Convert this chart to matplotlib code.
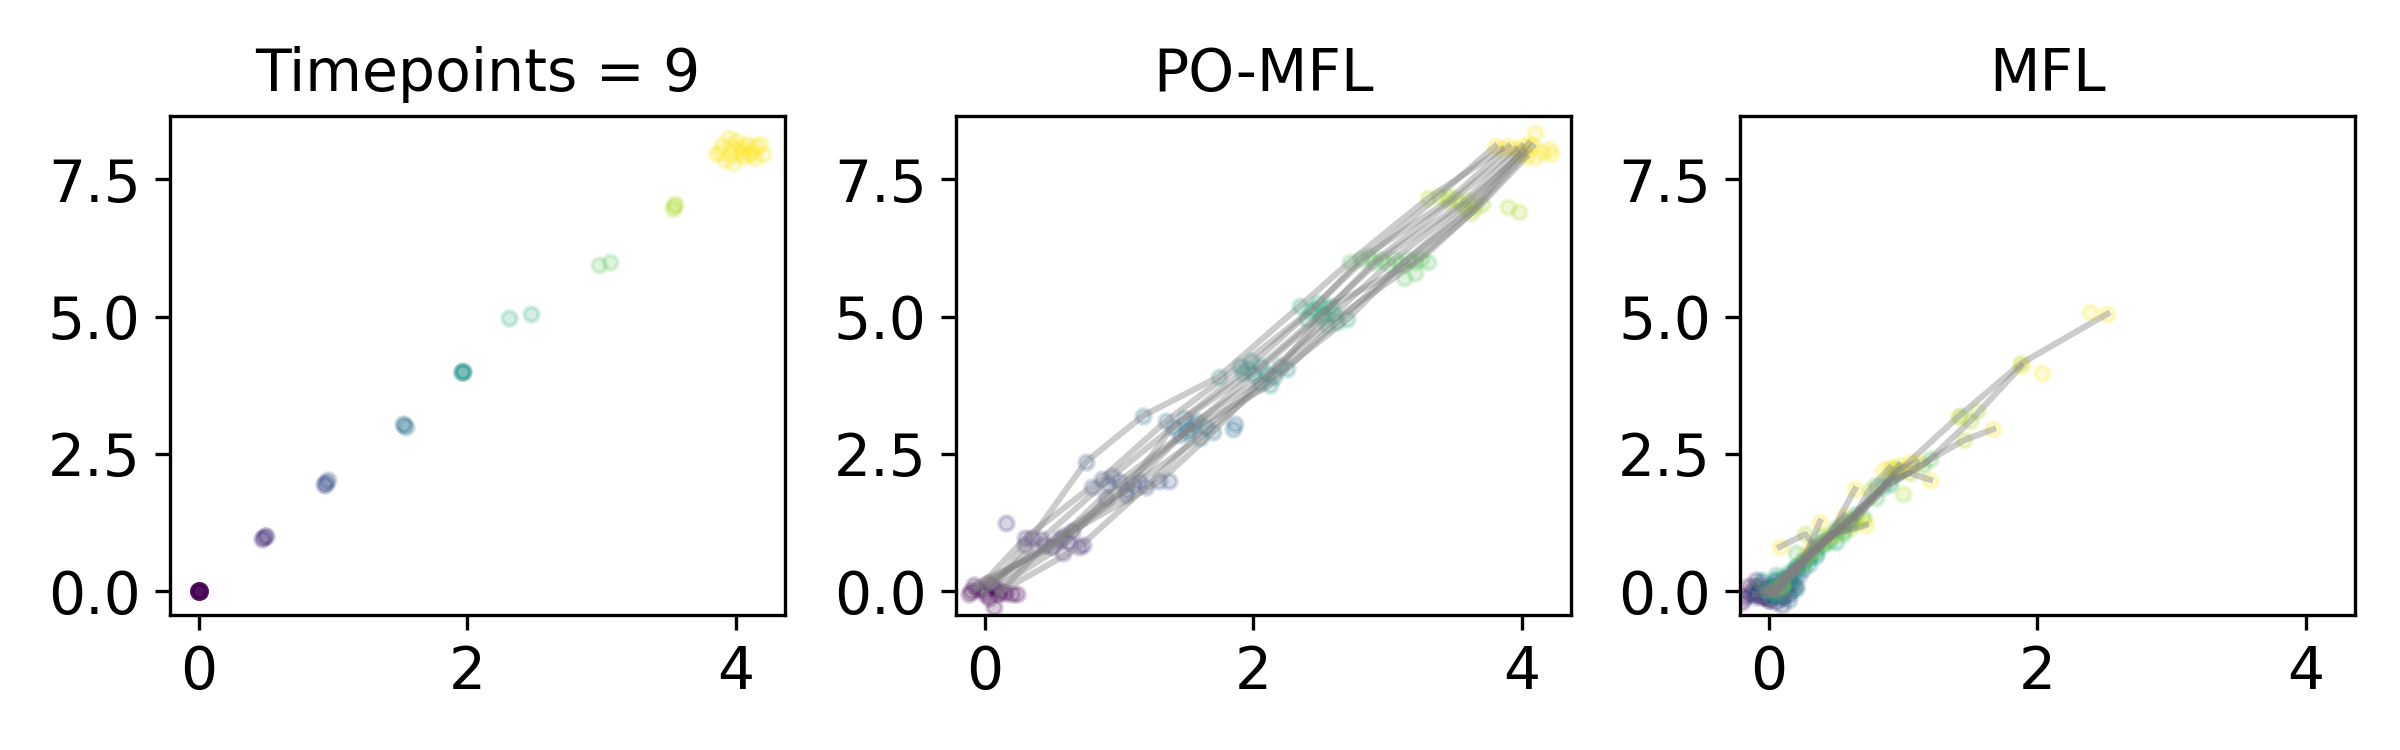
import matplotlib
matplotlib.use('Agg')
import matplotlib.pyplot as plt
import numpy as np

# ground truth, one list per timepoint (t = 0..8)
gt_x = [
    [0.0, 0.0, 0.0, 0.0, 0.0, 0.0, 0.0, 0.0, 0.0, 0.0, 0.0, 0.0],
    [0.48, 0.49, 0.47, 0.50],
    [0.94, 0.95, 0.96, 0.935],
    [1.52, 1.54, 1.53],
    [1.96, 1.97, 1.965, 1.96],
    [2.31, 2.47],
    [2.98, 3.06],
    [3.53, 3.54, 3.55],
    [3.88, 3.95, 3.97, 4.02, 4.10, 4.15, 4.18, 4.05, 3.92, 3.98,
     4.08, 4.12, 4.20, 3.85, 4.00, 4.04, 3.96, 4.14, 3.90, 4.06],
]
gt_y = [
    [0.0, 0.0, 0.0, 0.0, 0.0, 0.0, 0.0, 0.0, 0.0, 0.0, 0.0, 0.0],
    [0.97, 1.00, 0.96, 1.01],
    [1.93, 1.99, 2.03, 1.96],
    [3.05, 3.00, 3.03],
    [4.00, 4.01, 3.99, 4.00],
    [4.98, 5.04],
    [5.93, 5.99],
    [6.95, 7.01, 7.05],
    [8.00, 8.25, 8.10, 8.05, 7.95, 8.10, 8.15, 7.90, 7.85, 7.80,
     8.15, 8.00, 7.95, 7.95, 8.20, 7.98, 7.95, 7.88, 8.12, 8.08],
]

# PO-MFL particles, index i in each timepoint list is the same particle
po_x = [
    [-0.05, 0.00, 0.05, -0.10, 0.10, 0.02, 0.08, -0.08, 0.12, 0.00, 0.15, 0.20, 0.24, 0.07, -0.12, 0.03],
    [0.30, 0.35, 0.42, 0.55, 0.45, 0.58, 0.62, 0.50, 0.70, 0.65, 0.16, 0.73, 0.58, 0.30],
    [0.87, 0.75, 0.95, 1.00, 1.05, 1.10, 0.90, 1.15, 1.20, 1.30, 1.37, 1.05, 0.80, 0.92],
    [1.35, 1.18, 1.48, 1.52, 1.40, 1.55, 1.50, 1.60, 1.65, 1.70, 1.85, 1.86, 1.45, 1.58],
    [1.90, 1.74, 1.95, 2.00, 2.05, 2.10, 2.12, 2.15, 2.20, 2.05, 1.98, 2.25, 1.92],
    [2.42, 2.35, 2.45, 2.50, 2.55, 2.60, 2.62, 2.70, 2.58, 2.55, 2.40, 2.48, 2.52],
    [2.85, 2.72, 2.80, 2.90, 2.95, 3.05, 3.10, 3.15, 3.20, 3.25, 3.12, 3.20, 3.30, 3.00],
    [3.38, 3.30, 3.45, 3.50, 3.55, 3.60, 3.65, 3.58, 3.62, 3.70, 3.90, 3.98, 3.45],
    [3.80, 3.85, 3.90, 3.95, 4.00, 4.02, 4.05, 3.98, 4.08, 4.03, 4.10, 4.15, 4.20, 4.22, 4.10],
]
po_y = [
    [0.05, -0.05, 0.10, 0.00, -0.05, 0.15, 0.05, 0.12, 0.00, 0.03, -0.03, -0.05, -0.05, -0.28, -0.05, -0.12],
    [0.97, 0.98, 0.95, 0.95, 0.85, 1.00, 0.90, 0.80, 0.80, 1.10, 1.25, 0.85, 0.70, 0.85],
    [2.05, 2.35, 2.10, 2.00, 1.85, 1.95, 1.70, 2.00, 1.90, 2.00, 2.00, 1.75, 1.90, 1.95],
    [3.10, 3.20, 3.15, 2.95, 3.00, 3.05, 2.90, 2.80, 3.00, 2.90, 2.95, 3.05, 2.85, 3.10],
    [4.10, 3.90, 4.05, 3.95, 4.10, 3.95, 3.75, 3.90, 4.10, 3.80, 4.20, 4.05, 3.98],
    [5.10, 5.20, 5.15, 5.00, 5.15, 5.05, 4.90, 4.95, 5.20, 4.85, 4.95, 5.25, 5.05],
    [6.10, 6.00, 6.05, 6.00, 6.05, 6.05, 5.95, 6.05, 6.00, 6.05, 5.70, 5.80, 6.00, 5.95],
    [7.20, 7.15, 7.10, 7.15, 7.05, 7.10, 7.00, 6.95, 6.88, 7.05, 7.00, 6.90, 7.20],
    [8.10, 8.05, 8.10, 8.05, 8.10, 8.00, 8.15, 7.95, 8.10, 7.90, 7.90, 8.00, 8.05, 7.95, 8.35],
]

# MFL particles
mfl_x = [
    [0.00, -0.05, 0.03, 0.00, -0.10, 0.05, -0.08, 0.02, -0.03, 0.10, -0.15, 0.10, -0.20, 0.15, 0.00, -0.15, 0.05, -0.05, 0.08],
    [0.02, 0.00, 0.06, -0.02, 0.00, 0.08, -0.05, 0.05, 0.00, 0.12, -0.10, 0.15, -0.18, 0.18, 0.05, -0.12, 0.10, 0.00, 0.05],
    [0.06, 0.05, 0.10, 0.04, 0.05, 0.12, 0.00, 0.00, 0.03, 0.08, -0.05, 0.12, -0.12, 0.20, 0.10, -0.10, 0.15, -0.08, 0.15],
    [0.25, 0.20, 0.30, 0.10, 0.15, 0.20, 0.02, 0.05, -0.02, 0.10, 0.00, 0.08, -0.10, 0.22, 0.15, -0.05, 0.18, 0.00, 0.25],
    [0.55, 0.50, 0.60, 0.35, 0.40, 0.30, 0.05, 0.08, 0.00, 0.12, 0.05, 0.03, -0.05, 0.30, 0.20, 0.00, 0.10, 0.20, 0.35],
    [0.95, 0.85, 0.90, 0.65, 0.60, 0.45, 0.15, 0.10, 0.05, 0.15, 0.20, 0.10, 0.05, 0.50, 0.35, 0.02, 0.25, 0.40, 0.55],
    [1.42, 1.15, 1.20, 0.90, 0.80, 0.62, 0.35, 0.25, 0.10, 0.30, 0.35, 0.40, 0.20, 0.80, 0.55, 0.05, 0.45, 0.50, 0.70],
    [1.88, 1.50, 1.45, 1.05, 0.95, 0.75, 0.50, 0.40, 0.27, 0.45, 0.27, 0.60, 0.70, 1.00, 1.55, 0.10, 0.55, 0.65, 0.92],
    [2.52, 1.88, 1.67, 1.20, 1.10, 0.90, 0.72, 0.56, 0.38, 0.64, 0.08, 0.97, 2.39, 2.03, 1.41, 0.30, 0.85, 1.05, 1.00],
]
mfl_y = [
    [0.00, 0.02, -0.05, 0.05, -0.05, 0.10, 0.08, 0.00, -0.10, 0.00, 0.10, -0.10, -0.20, 0.20, -0.15, -0.05, 0.05, -0.10, 0.15],
    [0.02, 0.05, 0.00, 0.00, -0.08, 0.05, 0.00, -0.05, 0.00, 0.05, 0.20, -0.05, -0.10, 0.15, -0.20, 0.00, 0.00, -0.15, 0.20],
    [0.10, 0.08, 0.12, -0.03, 0.05, 0.20, 0.03, -0.02, 0.03, -0.05, 0.15, -0.10, -0.05, 0.10, -0.25, -0.10, 0.10, -0.05, 0.25],
    [0.55, 0.45, 0.65, 0.15, 0.30, 0.35, 0.00, 0.02, 0.05, 0.00, 0.10, -0.12, 0.10, 0.30, -0.15, 0.05, 0.05, 0.10, 0.40],
    [1.20, 1.10, 1.30, 0.80, 0.90, 0.60, 0.10, 0.05, 0.00, 0.08, 0.20, -0.05, 0.20, 0.50, 0.05, -0.10, -0.05, 0.40, 0.65],
    [2.15, 1.90, 1.95, 1.40, 1.25, 0.95, 0.35, 0.10, -0.05, 0.20, 0.45, 0.25, 0.30, 0.90, 0.70, 0.00, 0.55, 0.85, 1.10],
    [3.20, 2.30, 2.40, 2.05, 1.70, 1.30, 0.75, 0.50, 0.15, 0.60, 0.80, 1.00, 0.70, 1.94, 1.05, 0.05, 0.90, 1.15, 1.35],
    [4.15, 3.10, 2.75, 2.15, 2.20, 1.85, 1.05, 0.90, 0.65, 1.00, 1.04, 1.15, 1.30, 1.78, 3.28, 0.10, 1.20, 1.25, 2.25],
    [5.05, 4.10, 2.95, 2.03, 2.35, 2.25, 1.21, 1.38, 1.27, 1.86, 0.81, 2.30, 5.09, 3.98, 3.18, 0.75, 2.20, 2.35, 2.20],
]

titles = ['Timepoints = 9', 'PO-MFL', 'MFL']
n_lines = [0, 10, 12]  # how many particles get a trajectory line

plt.rcParams['font.size'] = 14

fig = plt.figure(figsize=(8, 2.5), dpi=300)
lefts = [0.0708, 0.3983, 0.725]
axes = [fig.add_axes([l, 0.18, 0.2563, 0.6653]) for l in lefts]

panels = [(gt_x, gt_y), (po_x, po_y), (mfl_x, mfl_y)]
n_t = len(gt_x)
for ax, (xs, ys), title, nl in zip(axes, panels, titles, n_lines):
    for t in range(n_t):
        ax.scatter(xs[t], ys[t], s=12, color=plt.cm.viridis(t / (n_t - 1)),
                   alpha=0.2, zorder=1)
    for i in range(nl):
        ax.plot([xs[t][i] for t in range(n_t)], [ys[t][i] for t in range(n_t)],
                color='gray', alpha=0.4, lw=1.5, zorder=2)
    ax.set_xlim(-0.216, 4.366)
    ax.set_ylim(-0.43, 8.65)
    ax.set_xticks([0, 2, 4])
    ax.set_yticks([0.0, 2.5, 5.0, 7.5])
    ax.set_title(title, fontsize=14)

fig.savefig('out.png', dpi=300)
